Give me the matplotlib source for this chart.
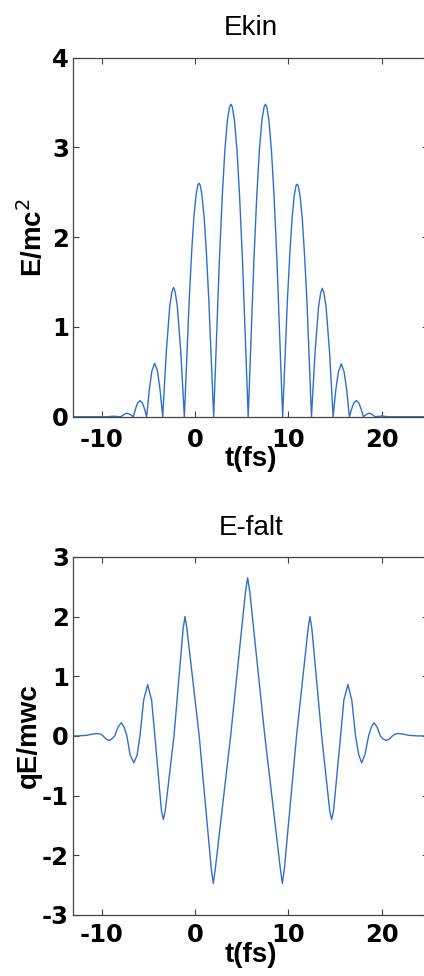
# -*- coding: utf-8 -*-
from matplotlib import pyplot as plt
import numpy as np

# kinetic energy E/mc^2 vs t (fs)
t_ekin = [-13.5, -9.4, -8.75, -7.95, -7.6, -7.28, -6.95, -6.6,
          -6.366, -6.14, -5.89, -5.64, -5.414, -5.18,
          -4.896, -4.62, -4.32, -4.02, -3.744, -3.46,
          -3.077, -2.706, -2.474, -2.30, -2.126, -1.894, -1.523, -1.14,
          -0.62, -0.355, -0.12, 0.116, 0.30, 0.43, 0.56, 0.74, 0.98, 1.215, 1.48, 2.0,
          2.61, 2.925, 3.20, 3.48, 3.70, 3.85, 4.00, 4.22, 4.50, 4.775, 5.09, 5.7,
          6.31, 6.62, 6.90, 7.18, 7.40, 7.545, 7.69, 7.91, 8.19, 8.47, 8.78, 9.39,
          9.90, 10.17, 10.40, 10.63, 10.82, 10.945, 11.07, 11.26, 11.49, 11.72, 11.99, 12.48,
          12.863, 13.234, 13.466, 13.64, 13.814, 14.046, 14.417, 14.8,
          15.087, 15.365, 15.67, 15.975, 16.253, 16.54,
          16.79, 17.03, 17.29, 17.55, 17.79, 18.04,
          18.36, 18.67, 18.98, 19.3, 20.0, 20.7, 25.5]
e_kin = [0.0, 0.0, 0.006, 0.0, 0.025, 0.04, 0.025, 0.0,
         0.09, 0.154, 0.18, 0.154, 0.09, 0.0,
         0.30, 0.51, 0.595, 0.51, 0.30, 0.0,
         0.72, 1.23, 1.39, 1.44, 1.39, 1.23, 0.72, 0.0,
         1.30, 1.84, 2.22, 2.47, 2.58, 2.60, 2.58, 2.47, 2.22, 1.84, 1.30, 0.0,
         1.74, 2.46, 2.97, 3.31, 3.45, 3.48, 3.45, 3.31, 2.97, 2.46, 1.74, 0.0,
         1.74, 2.46, 2.97, 3.31, 3.45, 3.48, 3.45, 3.31, 2.97, 2.46, 1.74, 0.0,
         1.30, 1.83, 2.21, 2.46, 2.57, 2.59, 2.57, 2.46, 2.21, 1.83, 1.30, 0.0,
         0.72, 1.22, 1.38, 1.43, 1.38, 1.22, 0.72, 0.0,
         0.30, 0.50, 0.59, 0.50, 0.30, 0.0,
         0.09, 0.154, 0.18, 0.154, 0.09, 0.0,
         0.025, 0.04, 0.025, 0.0, 0.008, 0.0, 0.0]

# electric field qE/mwc vs t (fs)
t_field = [-13.5, -12.5, -11.6, -11.0, -10.55, -10.1, -9.85, -9.55, -9.21, -8.9, -8.6,
           -8.25, -7.9, -7.6, -7.3, -6.95, -6.55, -6.2, -5.9, -5.5, -5.07, -4.65, -4.3,
           -3.59, -3.39, -3.19, -2.25, -1.27, -1.07, -0.87, 0.45,
           1.74, 1.96, 2.18, 3.82, 5.40, 5.64, 5.88, 7.48,
           9.14, 9.36, 9.58, 10.88, 12.12, 12.32, 12.52, 13.57,
           14.44, 14.64, 14.84, 15.6, 15.95, 16.38, 16.8, 17.2,
           17.55, 17.86, 18.2, 18.6, 18.9, 19.18, 19.5, 19.85,
           20.15, 20.5, 20.85, 21.15, 21.45, 21.8, 22.3, 22.9, 23.8, 25.5]
e_field = [0.0, 0.0, 0.01, 0.03, 0.04, 0.03, 0.0, -0.05, -0.077, -0.05, 0.0,
           0.15, 0.22, 0.15, 0.0, -0.32, -0.45, -0.32, 0.0, 0.6, 0.86, 0.6, 0.0,
           -1.26, -1.40, -1.26, 0.0, 1.8, 2.0, 1.8, 0.0,
           -2.22, -2.47, -2.22, 0.0, 2.4, 2.65, 2.4, 0.0,
           -2.22, -2.47, -2.22, 0.0, 1.8, 2.0, 1.8, 0.0,
           -1.26, -1.40, -1.26, 0.0, 0.6, 0.86, 0.6, 0.0,
           -0.32, -0.45, -0.32, 0.0, 0.15, 0.22, 0.15, 0.0,
           -0.05, -0.077, -0.05, 0.0, 0.03, 0.04, 0.03, 0.01, 0.0, 0.0]

plt.rcParams['axes.unicode_minus'] = False
line_col = '#2f6fce'

fig = plt.figure(figsize=(4.24, 9.76), dpi=100)
ax1 = fig.add_axes([0.1722, 0.573, 0.838, 0.368])
ax2 = fig.add_axes([0.1722, 0.0625, 0.838, 0.367])

def style(ax, xpad):
    ax.set_xlim(-13.07, 25)
    ax.set_xticks([-10, 0, 10, 20])
    ax.tick_params(direction='in', top=True, right=True, length=4,
                   width=0.8, color='#444444')
    ax.tick_params(axis='x', pad=xpad)
    ax.tick_params(axis='y', pad=3)
    for lab in ax.get_xticklabels() + ax.get_yticklabels():
        lab.set_fontfamily('DejaVu Sans')
        lab.set_fontweight('bold')
        lab.set_fontsize(17.5)
    for s in ax.spines.values():
        s.set_color('#444444')
        s.set_linewidth(0.9)

ax1.plot(t_ekin, e_kin, color=line_col, lw=1.0)
ax1.set_ylim(0, 4)
ax1.set_yticks([0, 1, 2, 3, 4])
style(ax1, 8)
ax1.set_title('Ekin', fontsize=20, fontfamily='Liberation Sans', pad=16)
ax1.set_ylabel('E/mc$^2$', fontsize=20, fontweight='bold', fontfamily='Liberation Sans', labelpad=3)
ax1.set_xlabel('t(fs)', fontsize=20, fontweight='bold', fontfamily='Liberation Sans', labelpad=-4)

ax2.plot(t_field, e_field, color=line_col, lw=1.0)
ax2.set_ylim(-3, 3)
ax2.set_yticks([-3, -2, -1, 0, 1, 2, 3])
style(ax2, 6)
ax2.set_title('E-falt', fontsize=20, fontfamily='Liberation Sans', pad=16)
ax2.set_ylabel('qE/mwc', fontsize=20, fontweight='bold', fontfamily='Liberation Sans', labelpad=0)
ax2.set_xlabel('t(fs)', fontsize=20, fontweight='bold', fontfamily='Liberation Sans', labelpad=-4)

fig.savefig('out.png', dpi=100)
